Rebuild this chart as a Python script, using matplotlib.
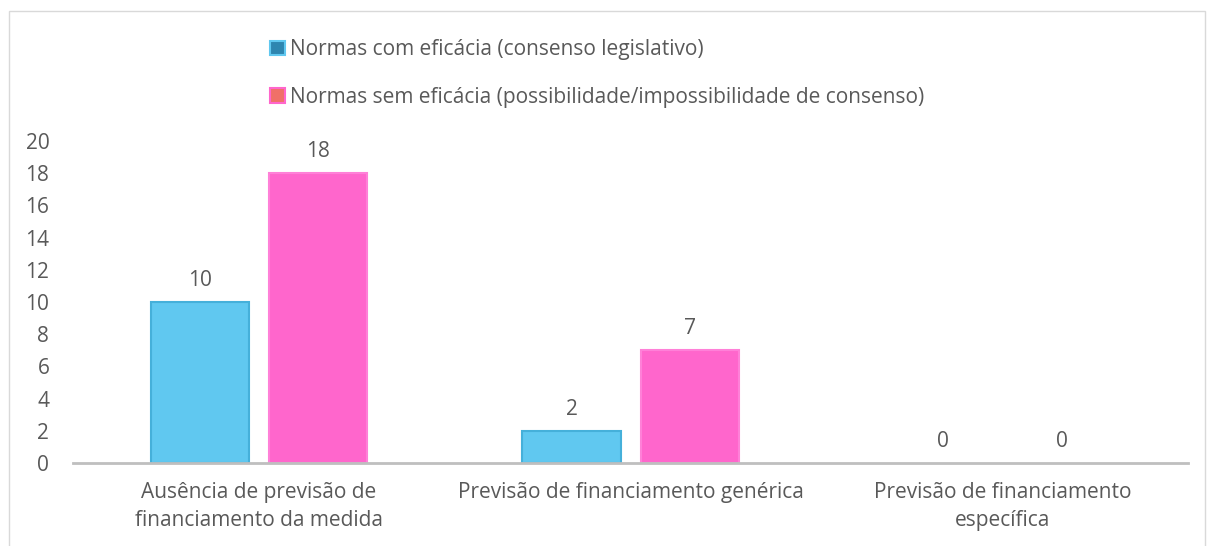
import numpy as np
import matplotlib.pyplot as plt
from matplotlib.patches import Patch, Rectangle

# %%
categorias = ['Ausência de previsão de\nfinanciamento da medida',
              'Previsão de financiamento genérica',
              'Previsão de financiamento\nespecífica']
com_eficacia = [10, 2, 0]
sem_eficacia = [18, 7, 0]
series_nomes = ['Normas com eficácia (consenso legislativo)',
                'Normas sem eficácia (possibilidade/impossibilidade de consenso)']

plt.rcParams['font.family'] = ['Open Sans', 'DejaVu Sans']
txt = '#595959'
fs = 15

# %%
fig = plt.figure(figsize=(12.15, 5.46), dpi=100)
ax = fig.add_axes([0.060, 0.152, 0.918, 0.590])

x = np.arange(len(categorias))
w = 0.264
off = 0.159
b1 = ax.bar(x - off, com_eficacia, w, color='#60C8F0', edgecolor='#45B0DA', linewidth=1.5)
b2 = ax.bar(x + off, sem_eficacia, w, color='#FF66CC', edgecolor='#FF80D8', linewidth=1.5)

for bars in (b1, b2):
    for b in bars:
        if b.get_height() == 0:
            b.set_linewidth(0)
        ax.annotate(f'{int(b.get_height())}', (b.get_x() + b.get_width() / 2, b.get_height()),
                    xytext=(0, 8), textcoords='offset points', ha='center', va='bottom',
                    fontsize=fs, color=txt)

ax.set_xlim(-0.5, 2.5)
ax.set_ylim(0, 20)
ax.set_yticks(np.arange(0, 21, 2))
ax.set_xticks(x)
ax.set_xticklabels(categorias, linespacing=1.4)
ax.tick_params(axis='both', length=0, labelsize=fs, labelcolor=txt)
ax.tick_params(axis='y', pad=17)
ax.tick_params(axis='x', pad=14)
for s in ['top', 'right', 'left']:
    ax.spines[s].set_visible(False)
ax.spines['bottom'].set_color('#BFBFBF')
ax.spines['bottom'].set_linewidth(2)

handles = [Patch(facecolor='#2E86B0', edgecolor='#60C8F0', linewidth=1.5),
           Patch(facecolor='#F07068', edgecolor='#FF66CC', linewidth=1.5)]
fig.legend(handles, series_nomes, loc='upper left', bbox_to_anchor=(0.207, 0.962),
           frameon=False, fontsize=fs, labelcolor=txt, handlelength=0.7, handleheight=0.7,
           handletextpad=0.25, labelspacing=1.25)

# chart border
fig.patches.append(Rectangle((0.007, -0.01), 0.985, 0.99, transform=fig.transFigure,
                             fill=False, edgecolor='#D9D9D9', linewidth=1))

fig.savefig('out.png', dpi=100)
